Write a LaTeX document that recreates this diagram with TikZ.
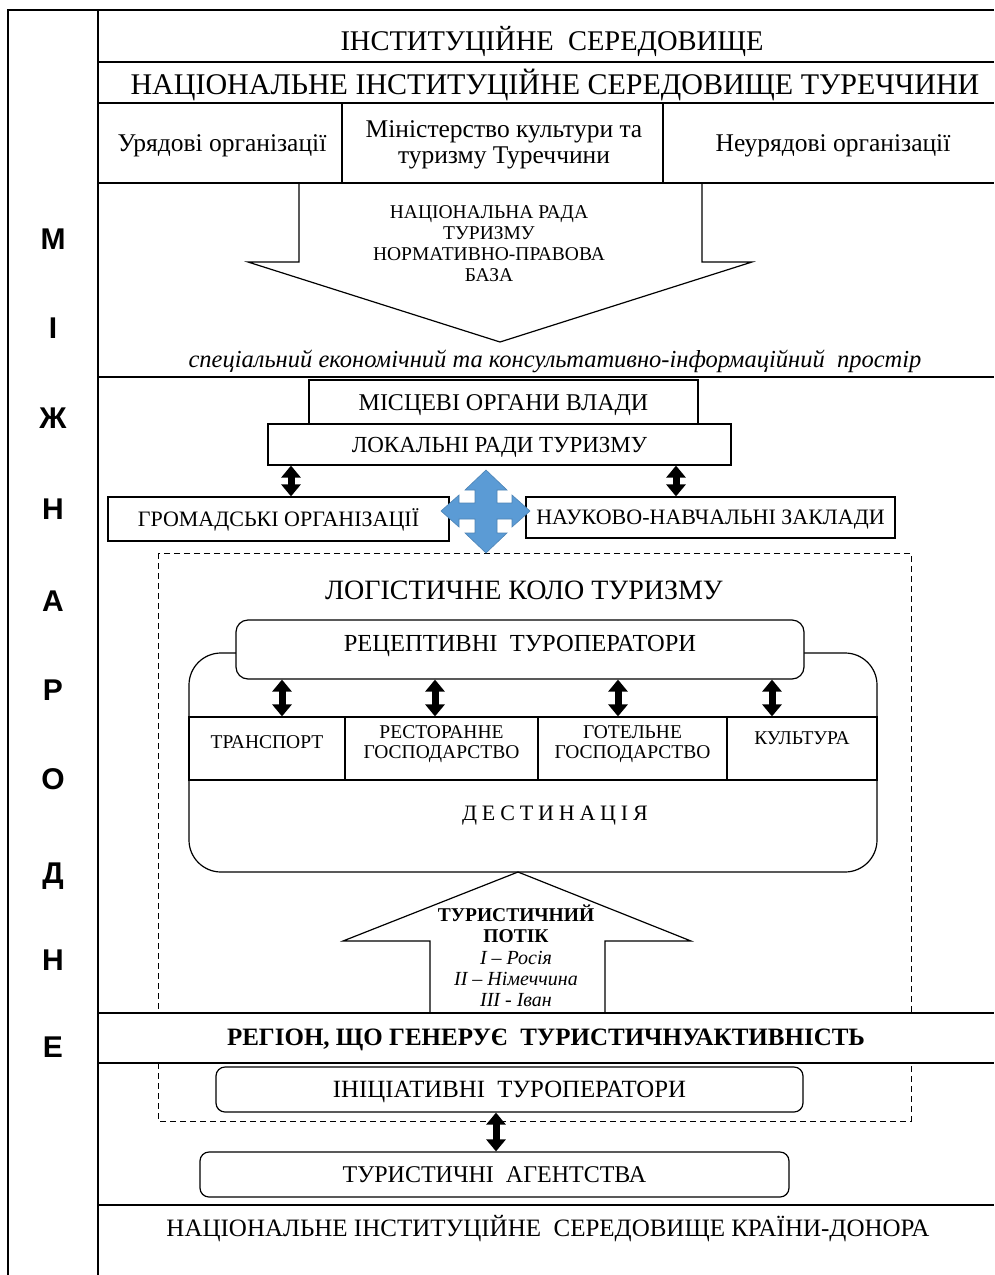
\documentclass[tikz,border=0pt]{standalone}
\usepackage{fontspec}
\setmainfont{Liberation Serif}
\newfontfamily\lsans{Liberation Sans}
\usetikzlibrary{arrows.meta}
\definecolor{crossblue}{RGB}{91,155,213}
\newcommand{\fs}[2]{\fontsize{#1}{#2}\selectfont}
\begin{document}
\begin{tikzpicture}[x=1pt,y=-1pt,
  frame/.style={line width=1.4pt},
  thinl/.style={line width=1.2pt},
  txt/.style={inner sep=0pt},
  caps/.style={inner sep=0pt, text height=#1, text depth=0pt},
  mline/.style={inner sep=0pt, align=center},
  sqbox/.style={draw, line width=1.2pt, fill=white, inner sep=0pt},
  rdbox/.style={sqbox, rounded corners=9pt},
  dblarr/.style={line width=7pt, {Triangle[length=12pt,width=19pt]}-{Triangle[length=12pt,width=19pt]}},
  letter/.style={caps=21.5pt, font=\lsans\bfseries\fs{30}{30}},
]
\useasboundingbox (0,0) rectangle (994,1275);
\fill[white] (0,0) rectangle (994,1275);

% dashed logistic circle frame
\draw[line width=1pt, dash pattern=on 6pt off 4pt] (158,553) rectangle (911,1121);

% main frame
\draw[frame] (8,1275) -- (8,10) -- (994,10);
\draw[frame] (98,10) -- (98,1205);
\draw[line width=2.4pt] (98,1205) -- (98,1275);
\foreach \yy in {62,103,183} \draw[frame] (98,\yy) -- (994,\yy);
\draw[frame] (342,103) -- (342,183);
\draw[frame] (663,103) -- (663,183);
\draw[line width=2.2pt] (98,377) -- (994,377);
\fill[white] (98.7,1013) rectangle (994,1063);
\draw[frame] (98,1013) -- (994,1013);
\draw[frame] (98,1063) -- (994,1063);
\draw[frame] (98,1205) -- (994,1205);

% left vertical word
\foreach \t/\yy [count=\k] in {М/239,І/328,Ж/418,Н/509,А/601,Р/690,О/779,Д/873,Н/960,Е/1047}
  \node[letter] (let\k) at (53,\yy) {\t};

% top rows
\node[caps=18.5pt, font=\fs{28.5}{30}] (t1) at (552,41) {ІНСТИТУЦІЙНЕ\ \ СЕРЕДОВИЩЕ};
\node[caps=19.8pt, font=\fs{30}{31}] (t2) at (555,85) {НАЦІОНАЛЬНЕ ІНСТИТУЦІЙНЕ СЕРЕДОВИЩЕ ТУРЕЧЧИНИ};
\node[txt, anchor=base, font=\fs{25.5}{26}] (gov) at (222,151) {Урядові організації};
\node[mline, font=\fs{25.5}{26}] (min) at (504,145) {Міністерство культури та\\туризму Туреччини};
\node[txt, anchor=base, font=\fs{25.5}{26}] (ngo) at (833,151) {Неурядові організації};

% big down arrow
\draw[thinl] (299,183) -- (299,262) -- (248,262) -- (500,342) -- (752,262) -- (702,262) -- (702,183);
\node[mline, font=\fs{19.5}{21}] (council) at (489,243.5) {НАЦІОНАЛЬНА РАДА\\ТУРИЗМУ\\НОРМАТИВНО-ПРАВОВА\\БАЗА};
\node[txt, anchor=base, font=\itshape\fs{24.5}{26}] (space) at (555,367) {спеціальний економічний та консультативно-інформаційний\ \ простір};

% local level
\node[sqbox, minimum width=389, minimum height=45, font=\fs{24}{26}, text height=15.9pt, text depth=0pt] (mis) at (503.5,402.5) {МІСЦЕВІ ОРГАНИ ВЛАДИ};
\node[sqbox, minimum width=463, minimum height=41, font=\fs{23}{26}, text height=15.2pt, text depth=0pt] (lok) at (499.5,444.5) {ЛОКАЛЬНІ РАДИ ТУРИЗМУ};
\node[sqbox, minimum width=341, minimum height=44, font=\fs{22}{26}, text height=14.6pt, text depth=0pt] (gro) at (278.5,519) {ГРОМАДСЬКІ ОРГАНІЗАЦІЇ};
\node[sqbox, minimum width=369, minimum height=41, font=\fs{22}{26}, text height=14.6pt, text depth=0pt] (nauk) at (710.5,517.5) {НАУКОВО-НАВЧАЛЬНІ ЗАКЛАДИ};
\coordinate (ax1) at (291,0);
\coordinate (ax2) at (676,0);
\draw[dblarr] (lok.south -| ax1) -- (gro.north -| ax1);
\draw[dblarr] (lok.south -| ax2) -- (nauk.north -| ax2);

% blue four-way arrow
\fill[crossblue, draw=crossblue!85!black, line width=0.6pt]
  (486,470) -- (507,490) -- (497,490) -- (497,503) -- (512,503) -- (512,495) -- (530,511)
  -- (512,527) -- (512,519) -- (497,519) -- (497,533) -- (507,533) -- (486,553)
  -- (465,533) -- (475,533) -- (475,519) -- (459,519) -- (459,527) -- (441,511)
  -- (459,495) -- (459,503) -- (475,503) -- (475,490) -- (465,490) -- cycle;

% logistic circle
\node[caps=18.5pt, font=\fs{28}{30}] (logo) at (524,590) {ЛОГІСТИЧНЕ КОЛО ТУРИЗМУ};
\node[draw, line width=1.2pt, rounded corners=32pt, minimum width=688, minimum height=219, inner sep=0pt] (dest) at (533,762.5) {};
\node[sqbox, minimum width=156, minimum height=63] (c1) at (267,748.5) {};
\node[sqbox, minimum width=193, minimum height=63] (c2) at (441.5,748.5) {};
\node[sqbox, minimum width=189, minimum height=63] (c3) at (632.5,748.5) {};
\node[sqbox, minimum width=150, minimum height=63] (c4) at (802,748.5) {};
\node[caps=12.9pt, font=\fs{19.5}{20}] (c1t) at (267,742) {ТРАНСПОРТ};
\node[mline, font=\fs{19.5}{19.5}] (c2t) at (441.5,744) {РЕСТОРАННЕ\\ГОСПОДАРСТВО};
\node[mline, font=\fs{19.5}{19.5}] (c3t) at (632.5,744) {ГОТЕЛЬНЕ\\ГОСПОДАРСТВО};
\node[caps=12.9pt, font=\fs{19.5}{20}] (c4t) at (802,738) {КУЛЬТУРА};
\node[caps=14.6pt, font=\fs{22}{24}\addfontfeature{LetterSpace=22}] (destt) at (555,813) {ДЕСТИНАЦІЯ};
\node[rdbox, rounded corners=12pt, minimum width=568, minimum height=59, font=\fs{24.5}{26}, text height=16.2pt, text depth=12pt] (rec) at (520,649.5) {РЕЦЕПТИВНІ\ \ ТУРОПЕРАТОРИ};
\foreach \xx [count=\k] in {282,435,618,772} {
  \coordinate (cx\k) at (\xx,0);
  \draw[dblarr] (rec.south -| cx\k) -- (c\k.north -| cx\k);
}

% tourist flow arrow
\draw[thinl] (430,1013) -- (430,941) -- (343,941) -- (518,872) -- (691,941) -- (605,941) -- (605,1013);
\node[mline, font=\fs{19.5}{21.3}] (flow) at (516,956) {{\bfseries ТУРИСТИЧНИЙ}\\{\bfseries ПОТІК}\\{\itshape\fs{20}{21.3}I – Росія}\\{\itshape\fs{20}{21.3}II – Німеччина}\\{\itshape\fs{20}{21.3}III - Іван}};

% generating region
\node[caps=16.5pt, font=\bfseries\fs{25}{27}] (reg) at (546,1037) {РЕГІОН, ЩО ГЕНЕРУЄ\ \ ТУРИСТИЧНУАКТИВНІСТЬ};
\node[rdbox, minimum width=587, minimum height=45, font=\fs{24.8}{26}, text height=16.4pt, text depth=0pt] (ini) at (509.5,1089.5) {ІНІЦІАТИВНІ\ \ ТУРОПЕРАТОРИ};
\node[rdbox, minimum width=589, minimum height=45, font=\fs{24}{26}, text height=15.9pt, text depth=0pt] (agen) at (494.5,1174.5) {ТУРИСТИЧНІ\ \ АГЕНТСТВА};
\coordinate (ax3) at (496,0);
\draw[dblarr] (ini.south -| ax3) -- (agen.north -| ax3);
\node[caps=16.5pt, font=\fs{25}{26}] (donor) at (548,1228) {НАЦІОНАЛЬНЕ ІНСТИТУЦІЙНЕ\ \ СЕРЕДОВИЩЕ КРАЇНИ-ДОНОРА};
\end{tikzpicture}
\end{document}
